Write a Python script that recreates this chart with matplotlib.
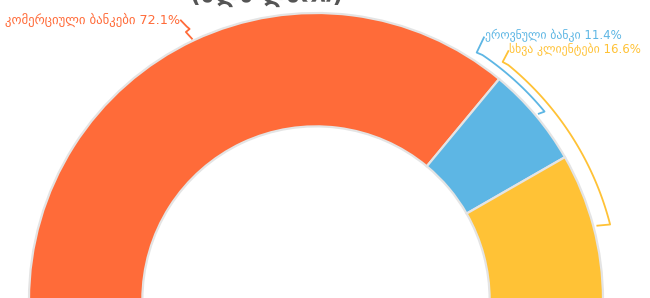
import numpy as np
import matplotlib
matplotlib.use("Agg")
from matplotlib import pyplot as plt

labels = ["კომერციული ბანკები", "ეროვნული ბანკი", "სხვა კლიენტები"]
shares = [72.1, 11.4, 16.6]
colors = ["#FF6B39", "#5DB6E4", "#FFC236"]
title = "(მლნ ლარი)"

plt.rcParams['font.family'] = ['DejaVu Sans']

fig = plt.figure(figsize=(6.5, 2.98), dpi=100)
ax = fig.add_axes([0, 0, 1, 1])

# half donut: add an invisible wedge with the same total
vals = shares + [sum(shares)]
wedges, _ = ax.pie(vals, startangle=180, counterclock=False, radius=1.0,
                   colors=colors + ["none"],
                   wedgeprops=dict(width=0.395, edgecolor="#e4e4e4", linewidth=1.6))
wedges[-1].set_edgecolor("none")

scale = 287.0
ax.set_xlim(-316 / scale, 334 / scale)
ax.set_ylim(2 / scale, 300 / scale)
ax.set_aspect("auto")
ax.axis("off")


def pol(r, a):
    t = np.radians(a)
    return r * np.cos(t), r * np.sin(t)


# orange label with zigzag connector
p = [pol(1.082, 115.8), pol(1.054, 115.3), pol(1.042, 115.0), pol(1.038, 115.9), pol(1.008, 115.4)]
ax.plot([q[0] for q in p], [q[1] for q in p], color=colors[0], lw=1.3)
ax.text(p[0][0] - 0.002, p[0][1] + 0.002, "%s %.1f%%" % (labels[0], shares[0]),
        color=colors[0], fontsize=9.2, ha="right", va="center")

# brackets for the two small slices
def bracket(r, a0, a1, rt, rin, col, lab, val):
    arc = np.linspace(a0, a1, 60)
    xs = [pol(rt, a0 + 1.6)[0], pol(r - 0.004, a0 + 1.2)[0]]
    ys = [pol(rt, a0 + 1.6)[1], pol(r - 0.004, a0 + 1.2)[1]]
    for a in arc:
        x, y = pol(r, a)
        xs.append(x)
        ys.append(y)
    xe, ye = pol(rin, a1 + 0.4)
    xs.append(xe)
    ys.append(ye)
    ax.plot(xs, ys, color=col, lw=1.3)
    tx, ty = pol(rt, a0 + 1.6)
    ax.text(tx + 0.003, ty + 0.005, "%s %.1f%%" % (lab, val), color=col, fontsize=8.5,
            ha="left", va="center")


bracket(1.032, 55.8, 39.5, 1.086, 1.012, colors[1], labels[1], shares[1])
bracket(1.058, 50.7, 14.4, 1.096, 1.014, colors[2], labels[2], shares[2])

fig.text(0.41, 0.978, title, fontsize=17, fontweight="bold", color="#555555",
         ha="center", va="bottom")

fig.savefig("out.png", dpi=100)
